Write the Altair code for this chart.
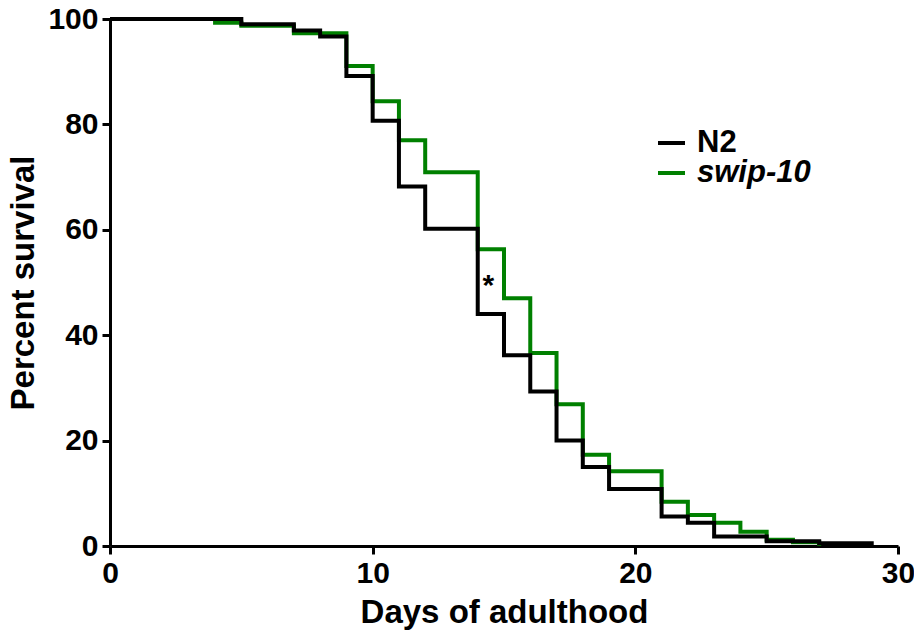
import altair as alt
import pandas as pd

# Kaplan-Meier steps (day, percent surviving)
n2_days = [0, 5, 7, 8, 9, 10, 11, 12, 14, 15, 16, 17, 18, 19, 21, 22, 23, 25, 27, 29]
n2_surv = [100, 99.0, 97.8, 96.7, 89.2, 80.7, 68.2, 60.2, 44.0, 36.2, 29.3, 20.0, 15.0, 10.8, 5.6, 4.4, 1.8, 0.9, 0.5, 0]

swip_days = [0, 4, 5, 7, 9, 10, 11, 12, 14, 15, 16, 17, 18, 19, 21, 22, 23, 24, 25, 26, 27]
swip_surv = [100, 99.3, 98.7, 97.3, 91.1, 84.4, 77.0, 70.9, 56.3, 47.0, 36.6, 26.9, 17.3, 14.2, 8.4, 5.9, 4.4, 2.7, 1.2, 0.7, 0]

series_names = ["N2", "swip-10"]
series_colors = ["#000000", "#008000"]

x_ticks = [0, 10, 20, 30]
y_ticks = [0, 20, 40, 60, 80, 100]

star_day = [14.4]
star_surv = [50.0]
star_text = ["*"]

FONT = "Liberation Sans"

df = pd.concat([
    pd.DataFrame({"day": swip_days, "surv": swip_surv, "strain": "swip-10"}),
    pd.DataFrame({"day": n2_days, "surv": n2_surv, "strain": "N2"}),
], ignore_index=True)

star_df = pd.DataFrame({"day": star_day, "surv": star_surv, "t": star_text})
legend_df = pd.DataFrame({"strain": series_names})

axis_style = dict(
    grid=False,
    domainColor="black", domainWidth=3, tickColor="black", tickWidth=3, tickSize=8,
    labelFont=FONT, labelFontSize=30, labelFontWeight="bold", labelColor="black",
    labelPadding=4, labelFlush=False,
    titleFont=FONT, titleFontSize=33, titleFontWeight="bold", titleColor="black",
)

x_enc = alt.X(
    "day:Q",
    scale=alt.Scale(domain=[0, 30], nice=False),
    axis=alt.Axis(values=x_ticks, title="Days of adulthood", titlePadding=8, **axis_style),
)
y_enc = alt.Y(
    "surv:Q",
    scale=alt.Scale(domain=[0, 100], nice=False),
    axis=alt.Axis(values=y_ticks, title="Percent survival", titlePadding=7, **axis_style),
)
color_enc = alt.Color(
    "strain:N",
    scale=alt.Scale(domain=series_names, range=series_colors),
    legend=None,
)

base = alt.Chart(df)
green = base.transform_filter(alt.datum.strain == "swip-10").mark_line(
    interpolate="step-after", strokeWidth=4, clip=False
).encode(x=x_enc, y=y_enc, color=color_enc)
black = base.transform_filter(alt.datum.strain == "N2").mark_line(
    interpolate="step-after", strokeWidth=4, clip=False
).encode(x=x_enc, y=y_enc, color=color_enc)

star = alt.Chart(star_df).mark_text(
    font=FONT, fontSize=30, fontWeight="bold", color="black", baseline="middle", dy=3
).encode(x="day:Q", y="surv:Q", text="t:N")

# Legend (built by hand for exact row spacing and per-label styling), one row per entry
legend_layers = []
legend_rows_y = [124, 154]
legend_styles = ["normal", "italic"]
for name, ly, fs in zip(series_names, legend_rows_y, legend_styles):
    one = alt.Chart(legend_df).transform_filter(alt.datum.strain == name)
    legend_layers.append(
        one.mark_rule(strokeWidth=4).encode(
            x=alt.value(548), x2=alt.value(575), y=alt.value(ly), color=color_enc
        )
    )
    legend_layers.append(
        one.mark_text(
            font=FONT, fontSize=31, fontWeight="bold", fontStyle=fs, color="black",
            align="left", baseline="middle"
        ).encode(x=alt.value(587), y=alt.value(ly), text="strain:N")
    )

chart = alt.layer(green, black, star, *legend_layers).properties(
    width=788, height=527,
    autosize=alt.AutoSizeParams(type="none"),
    padding={"left": 102, "top": 11, "right": 16, "bottom": 84},
).configure_view(stroke=None)

chart.save("out.html", embed_options={"renderer": "svg", "actions": False})
